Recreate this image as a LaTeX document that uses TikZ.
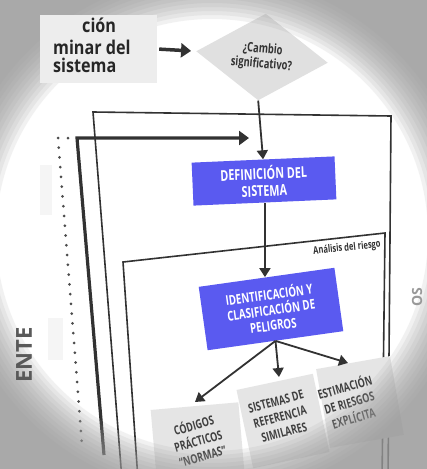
\documentclass[tikz,border=0pt]{standalone}
\usepackage{fontspec}
\setmainfont{Open Sans}
\newfontfamily\cond{Open Sans}[FakeStretch=0.72]
\newfontfamily\condw{Open Sans}[FakeStretch=0.85]
\usetikzlibrary{arrows.meta,shapes.geometric}
\definecolor{bluebox}{RGB}{90,90,240}
\definecolor{ink}{RGB}{50,50,50}
\tikzset{
  frame/.style={draw=ink, line width=1.6pt},
  arr/.style={draw=ink, line width=1.8pt, -{Triangle[length=9pt,width=11pt]}},
  thickarr/.style={draw=ink, line width=3.2pt, -{Triangle[length=10pt,width=14pt]}},
  bluenode/.style={fill=bluebox, text=white, align=center, inner sep=0pt},
  graybox/.style={fill=black!10, inner sep=0pt},
  graytext/.style={text=black!75, font=\cond\bfseries\fontsize{12.5}{16}\selectfont, align=center, inner sep=0pt},
  vig/.style={fill=black!40, fill opacity=0.13, even odd rule},
}
\begin{document}
\begin{tikzpicture}[x=1pt,y=-1pt]
\useasboundingbox (0,0) rectangle (427,469);
\fill[white] (0,0) rectangle (427,469);

% faint shapes at the left
\fill[black!4] (40,165) rectangle (52,215);
\fill[black!4] (48,318) rectangle (63,360);

% frames
\draw[frame] (122,480) -- (93,112) -- (391,116) -- (388,480);
\draw[frame] (138,480) -- (123,262) -- (385,233) -- (382,480);

% feedback arrow
\coordinate (fbstart) at (104,455);
\coordinate (fbcorner) at (77,138);
\coordinate (fbtip) at (249,138);
\draw[thickarr] (fbstart) -- (fbcorner) -- (fbtip);

% dotted line
\draw[black!70, line width=3pt, line cap=round, dash pattern=on 0pt off 9.8pt] (68,138) -- (58,138) -- (82,445);

% nodes
\node[diamond, fill=black!12, shape aspect=1.5, minimum width=132pt, minimum height=87pt, inner sep=0pt, rotate=-5,
      font=\cond\bfseries\fontsize{13}{15}\selectfont, text=black!80, align=center] (dia) at (262,57) {¿Cambio\\significativo?};

\node[bluenode, minimum width=143pt, minimum height=43pt, rotate=2.5,
      font=\cond\bfseries\fontsize{15}{17}\selectfont] (def) at (264,181) {DEFINICIÓN DEL\\SISTEMA};

\node[bluenode, minimum width=137pt, minimum height=64pt, rotate=8,
      font=\cond\bfseries\fontsize{13.5}{15.5}\selectfont] (ident) at (271,309) {IDENTIFICACIÓN Y\\CLASIFICACIÓN DE\\PELIGROS};

\node[font=\cond\bfseries\fontsize{10.5}{12}\selectfont, text=black!80, rotate=6, inner sep=0pt] (anal) at (347,248) {Análisis del riesgo};

% lower boxes
\node[graybox, minimum width=88pt, minimum height=80pt, rotate=5] (cod) at (198,446) {};
\node[graytext, rotate=16] (codt) at (198,440) {CÓDIGOS\\PRÁCTICOS\\“NORMAS”};
\node[graybox, minimum width=78pt, minimum height=80pt, rotate=12] (sis) at (283,421) {};
\node[graytext, rotate=15] (sist) at (280,417) {SISTEMAS DE\\REFERENCIA\\SIMILARES};
\node[graybox, minimum width=75pt, minimum height=80pt, rotate=10] (est) at (360,402) {};
\node[graytext, rotate=16] (estt) at (349,402) {ESTIMACIÓN\\DE RIESGOS\\EXPLÍCITA};

% connectors
\draw[arr] (dia.south) -- (def.north);
\draw[arr] (def.south) -- (def.south |- ident.north);
\coordinate (tc) at (195,402);
\coordinate (ts) at (279,377);
\coordinate (te) at (348,363);
\draw[arr] (ident.south) -- (tc);
\draw[arr] (ident.south) -- (ts);
\draw[arr] (ident.south) -- (te);

% vignette
\foreach \r in {216,220,...,260} {
  \fill[vig] (-10,-10) rectangle (437,479) (212,235) circle[radius=\r pt];
}

% top-left box
\node[fill=black!7, minimum width=117pt, minimum height=68pt, inner sep=0pt] (tlbox) at (98.5,49) {};
\node[anchor=base west, font=\condw\bfseries\fontsize{19}{19}\selectfont, text=black!85, inner sep=0pt] (tla) at (82,32) {ción};
\node[anchor=base west, font=\condw\bfseries\fontsize{19}{19}\selectfont, text=black!85, inner sep=0pt] (tlb) at (53,54) {minar del};
\node[anchor=base west, font=\condw\bfseries\fontsize{19}{19}\selectfont, text=black!85, inner sep=0pt] (tlc) at (53,72) {sistema};
\draw[thickarr, line width=3.5pt, shorten <=2pt, shorten >=5pt] (tlbox.east) -- (dia.west);

% side labels
\node[rotate=90, font=\bfseries\fontsize{22}{22}\selectfont, text=black!65, inner sep=0pt] (ente) at (24,355) {ENTE};
\node[rotate=90, font=\bfseries\fontsize{14}{14}\selectfont, text=black!40, inner sep=0pt] (os) at (417,297) {OS};
\end{tikzpicture}
\end{document}
